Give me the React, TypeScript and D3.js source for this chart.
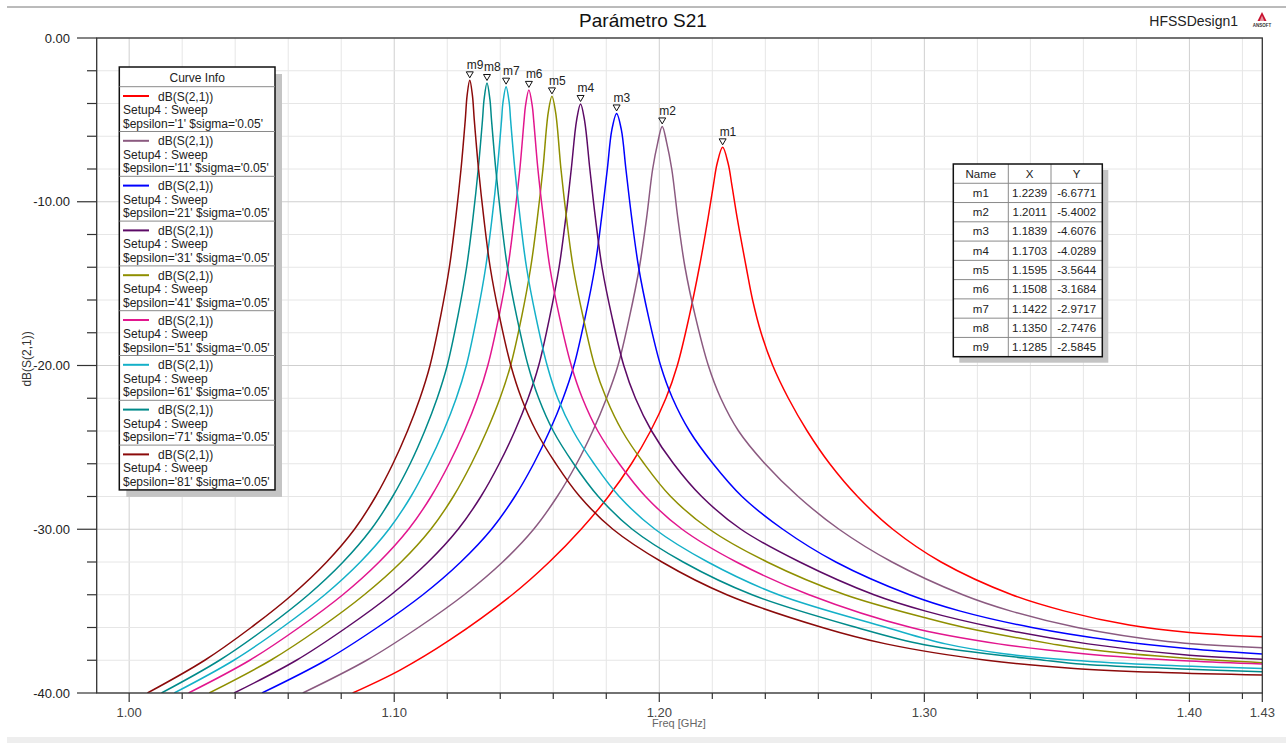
import React from 'react';
import * as d3 from 'd3';

// ---------- data ----------
const chartTitle = 'Parámetro S21';
const designName = 'HFSSDesign1';
const yAxisTitle = 'dB(S(2,1))';
const xAxisTitle = 'Freq [GHz]';

const xMajorTicks = [1.0, 1.1, 1.2, 1.3, 1.4];
const xEndLabel = '1.43';
const yMajorTicks = [0, -10, -20, -30, -40];

const epsilons = [1, 11, 21, 31, 41, 51, 61, 71, 81];
const curveColors = ['#ff0000', '#8b5a80', '#0000ff', '#5c0a66', '#8f8f00', '#e2168e', '#14b0c8', '#008a8a', '#8b0a0a'];

// [freq GHz, dB]
const s21_eps1: [number, number][] = [[1.0843,-40],[1.1022,-38.6],[1.121,-36.76],[1.1445,-34],[1.1585,-32],[1.1705,-30],[1.1808,-28],[1.1895,-26],[1.1967,-24],[1.2025,-22],[1.2068,-20],[1.2113,-17],[1.2151,-14],[1.2184,-11],[1.2204,-9],[1.2218,-7.68],[1.2239,-6.6771],[1.226,-7.68],[1.2274,-9],[1.2294,-11],[1.2328,-14],[1.2352,-16],[1.2384,-18],[1.2428,-20],[1.2487,-22],[1.2558,-24],[1.2643,-26],[1.2748,-28],[1.2881,-30],[1.3063,-32],[1.333,-34],[1.353,-35],[1.3773,-35.85],[1.40,-36.3],[1.4275,-36.56]];
const s21_eps11: [number, number][] = [[1.0655,-40],[1.0896,-38],[1.1091,-36],[1.1264,-34],[1.1409,-32],[1.1526,-30],[1.1615,-28],[1.1688,-26],[1.1749,-24],[1.1801,-22],[1.1844,-20],[1.1888,-17],[1.1925,-14],[1.1952,-11],[1.1975,-8],[1.1994,-6.4],[1.2011,-5.4002],[1.2028,-6.4],[1.2047,-8],[1.207,-11],[1.2097,-14],[1.2136,-17],[1.2185,-20],[1.2232,-22],[1.2299,-24],[1.2399,-26],[1.2524,-28],[1.2678,-30],[1.2878,-32],[1.3145,-34],[1.3327,-35],[1.3577,-36],[1.3917,-36.85],[1.4275,-37.23]];
const s21_eps21: [number, number][] = [[1.0501,-40],[1.0742,-38],[1.0936,-36],[1.1108,-34],[1.1251,-32],[1.1367,-30],[1.1455,-28],[1.1526,-26],[1.1586,-24],[1.1637,-22],[1.1678,-20],[1.1721,-17],[1.1757,-14],[1.1782,-11],[1.1804,-8],[1.1821,-5.61],[1.1839,-4.6076],[1.1857,-5.61],[1.1874,-8],[1.1896,-11],[1.1922,-14],[1.1959,-17],[1.2005,-20],[1.205,-22],[1.2114,-24],[1.2203,-26],[1.2312,-28],[1.2466,-30],[1.2666,-32],[1.2944,-34],[1.3136,-35],[1.3406,-36],[1.3714,-36.8],[1.40,-37.3],[1.4275,-37.62]];
const s21_eps31: [number, number][] = [[1.0396,-40],[1.0631,-38],[1.082,-36],[1.0988,-34],[1.1128,-32],[1.1241,-30],[1.1327,-28],[1.1396,-26],[1.1455,-24],[1.1505,-22],[1.1545,-20],[1.1587,-17],[1.1622,-14],[1.1647,-11],[1.1668,-8],[1.1688,-5.03],[1.1703,-4.0289],[1.1718,-5.03],[1.1738,-8],[1.1759,-11],[1.1784,-14],[1.1821,-17],[1.1866,-20],[1.191,-22],[1.1971,-24],[1.2054,-26],[1.216,-28],[1.2308,-30],[1.253,-32],[1.281,-34],[1.3005,-35],[1.3265,-36],[1.3618,-37],[1.40,-37.7],[1.4275,-37.94]];
const s21_eps41: [number, number][] = [[1.0302,-40],[1.0534,-38],[1.0722,-36],[1.0887,-34],[1.1026,-32],[1.1138,-30],[1.1223,-28],[1.1291,-26],[1.1349,-24],[1.1399,-22],[1.1439,-20],[1.1481,-17],[1.1515,-14],[1.154,-11],[1.1561,-8],[1.1581,-4.56],[1.1595,-3.5644],[1.1609,-4.56],[1.1629,-8],[1.165,-11],[1.1675,-14],[1.1712,-17],[1.1756,-20],[1.18,-22],[1.186,-24],[1.1943,-26],[1.2043,-28],[1.2189,-30],[1.2407,-32],[1.2701,-34],[1.3025,-35.5],[1.3151,-36],[1.348,-37],[1.36,-37.3],[1.40,-37.9],[1.4275,-38.15]];
const s21_eps51: [number, number][] = [[1.0224,-40],[1.0455,-38],[1.0641,-36],[1.0806,-34],[1.0943,-32],[1.1054,-30],[1.1139,-28],[1.1207,-26],[1.1265,-24],[1.1314,-22],[1.1353,-20],[1.1395,-17],[1.1429,-14],[1.1453,-11],[1.1474,-8],[1.149,-5],[1.1495,-4.17],[1.1508,-3.1684],[1.1521,-4.17],[1.1526,-5],[1.1542,-8],[1.1563,-11],[1.1587,-14],[1.1623,-17],[1.1668,-20],[1.171,-22],[1.1768,-24],[1.1849,-26],[1.1948,-28],[1.2086,-30],[1.2291,-32],[1.2565,-34],[1.295,-36],[1.328,-37],[1.36,-37.6],[1.40,-38.05],[1.4275,-38.23]];
const s21_eps61: [number, number][] = [[1.017,-40],[1.0395,-38],[1.0577,-36],[1.0738,-34],[1.0872,-32],[1.098,-30],[1.1063,-28],[1.1129,-26],[1.1186,-24],[1.1234,-22],[1.1272,-20],[1.1312,-17],[1.1345,-14],[1.1369,-11],[1.1389,-8],[1.1405,-5],[1.141,-3.97],[1.1422,-2.9717],[1.1434,-3.97],[1.1439,-5],[1.1455,-8],[1.1475,-11],[1.1499,-14],[1.1534,-17],[1.1577,-20],[1.1617,-22],[1.1675,-24],[1.1754,-26],[1.1849,-28],[1.1984,-30],[1.2183,-32],[1.245,-34],[1.2858,-36],[1.308,-37],[1.33,-37.6],[1.356,-38],[1.39,-38.3],[1.4275,-38.5]];
const s21_eps71: [number, number][] = [[1.0122,-40],[1.0341,-38],[1.0519,-36],[1.0676,-34],[1.0807,-32],[1.0913,-30],[1.0994,-28],[1.106,-26],[1.1115,-24],[1.1162,-22],[1.12,-20],[1.124,-17],[1.1273,-14],[1.1297,-11],[1.1317,-8],[1.1333,-5],[1.1339,-3.75],[1.135,-2.7476],[1.1361,-3.75],[1.1367,-5],[1.1383,-8],[1.1403,-11],[1.1427,-14],[1.1462,-17],[1.1505,-20],[1.1545,-22],[1.16,-24],[1.1677,-26],[1.177,-28],[1.1898,-30],[1.209,-32],[1.235,-34],[1.2745,-36],[1.30,-37.05],[1.345,-38],[1.36,-38.25],[1.40,-38.55],[1.4275,-38.7]];
const s21_eps81: [number, number][] = [[1.0069,-40],[1.0285,-38],[1.046,-36],[1.0615,-34],[1.0745,-32],[1.085,-30],[1.093,-28],[1.0995,-26],[1.105,-24],[1.1097,-22],[1.1135,-20],[1.1175,-17],[1.1208,-14],[1.1232,-11],[1.1252,-8],[1.1268,-5],[1.1275,-3.5],[1.1285,-2.5845],[1.1295,-3.5],[1.1302,-5],[1.1318,-8],[1.1338,-11],[1.1362,-14],[1.1397,-17],[1.144,-20],[1.148,-22],[1.1535,-24],[1.161,-26],[1.17,-28],[1.1825,-30],[1.201,-32],[1.2255,-34],[1.2615,-36],[1.2855,-37],[1.3235,-38],[1.3565,-38.5],[1.39,-38.75],[1.4275,-38.9]];

const seriesData = [s21_eps1, s21_eps11, s21_eps21, s21_eps31, s21_eps41, s21_eps51, s21_eps61, s21_eps71, s21_eps81];

const markerNames = ['m1', 'm2', 'm3', 'm4', 'm5', 'm6', 'm7', 'm8', 'm9'];
const markerX = [1.2239, 1.2011, 1.1839, 1.1703, 1.1595, 1.1508, 1.1422, 1.1350, 1.1285];
const markerY = [-6.6771, -5.4002, -4.6076, -4.0289, -3.5644, -3.1684, -2.9717, -2.7476, -2.5845];

// ---------- layout ----------
const W = 1286;
const H = 743;
const P = { left: 96.7, right: 1262.3, top: 38, bottom: 693 };
const FONT = "'Liberation Sans', Arial, sans-serif";

export default function App() {
  const x = d3.scaleLinear().domain([0.98775, 1.4275]).range([P.left, P.right]);
  const y = d3.scaleLinear().domain([-40, 0]).range([P.bottom, P.top]);
  const line = d3
    .line<[number, number]>()
    .x((d) => x(d[0]))
    .y((d) => y(d[1]))
    .curve(d3.curveCatmullRom.alpha(0.5));

  const xMinor = d3.range(0, 22).map((k) => +(1.0 + k * 0.02).toFixed(2));
  const yMinor = d3.range(0, 21).map((k) => -2 * k);
  const isMajorX = (v: number) => Math.abs(v * 10 - Math.round(v * 10)) < 1e-6;
  const isMajorY = (v: number) => v % 10 === 0;

  const lg = { x: 119.3, y: 67, w: 155.7, head: 19.7, row: 44.8 };
  const lgH = lg.head + lg.row * epsilons.length;
  const tb = { x: 953.3, y: 164, w: 149, row: 19.27, c1: 1008.3, c2: 1051 };
  const tbRows = markerNames.length + 1;
  const colCenters = [(tb.x + tb.c1) / 2, (tb.c1 + tb.c2) / 2, (tb.c2 + tb.x + tb.w) / 2];

  return (
    <svg
      width={W}
      height={H}
      style={{ position: 'absolute', left: 0, top: 0, display: 'block', background: '#fff' }}
      fontFamily={FONT}
    >
      <defs>
        <clipPath id="plotClip">
          <rect x={P.left} y={P.top} width={P.right - P.left} height={P.bottom - P.top} />
        </clipPath>
      </defs>
      <rect x={0} y={0} width={W} height={H} fill="#fff" />
      <line x1={7} x2={W} y1={7} y2={7} stroke="#767676" strokeWidth={1} />
      <rect x={7} y={737} width={W - 7} height={6} fill="#eeeeee" />

      <text x={643} y={27} textAnchor="middle" fontSize={19} fill="#111">{chartTitle}</text>
      <text x={1238} y={26} textAnchor="end" fontSize={14} fill="#222">{designName}</text>
      <g>
        <path d="M1262,12 L1266.5,21 L1257.5,21 Z" fill="#c8102e" />
        <path d="M1262,15.5 L1264.3,21 L1259.7,21 Z" fill="#fff" opacity={0.55} />
        <text x={1262} y={26.5} textAnchor="middle" fontSize={4.5} fill="#333" fontWeight="bold">ANSOFT</text>
      </g>

      {/* grid */}
      {xMinor.map((v) => (
        <line key={'gx' + v} x1={x(v)} x2={x(v)} y1={P.top} y2={P.bottom}
          stroke={isMajorX(v) ? '#cfcfcf' : '#e6e6e6'} strokeWidth={1} />
      ))}
      {yMinor.map((v) => (
        <line key={'gy' + v} x1={P.left} x2={P.right} y1={y(v)} y2={y(v)}
          stroke={isMajorY(v) ? '#cfcfcf' : '#e6e6e6'} strokeWidth={1} />
      ))}

      {/* curves */}
      <g clipPath="url(#plotClip)">
        {seriesData.map((s, i) => (
          <path key={'c' + i} d={line(s) || ''} fill="none" stroke={curveColors[i]} strokeWidth={1.5} strokeLinejoin="round" />
        ))}
      </g>

      {/* frame */}
      <rect x={P.left} y={P.top} width={P.right - P.left} height={P.bottom - P.top}
        fill="none" stroke="#333" strokeWidth={1.3} />

      {/* y ticks */}
      {yMinor.map((v) => (
        <line key={'ty' + v} x1={isMajorY(v) ? 77 : 87} x2={P.left} y1={y(v)} y2={y(v)} stroke="#333" strokeWidth={1.2} />
      ))}
      {yMajorTicks.map((v) => (
        <text key={'ly' + v} x={70} y={y(v)} textAnchor="end" dominantBaseline="central" fontSize={13} fill="#222">
          {v.toFixed(2)}
        </text>
      ))}
      <text transform={`translate(27,${y(-19.6)}) rotate(-90)`} textAnchor="middle" dominantBaseline="central" fontSize={12} fill="#333">
        {yAxisTitle}
      </text>

      {/* x ticks */}
      {xMinor.map((v) => (
        <line key={'tx' + v} x1={x(v)} x2={x(v)} y1={P.bottom} y2={P.bottom + (isMajorX(v) ? 9 : 6)} stroke="#333" strokeWidth={1.2} />
      ))}
      <line x1={P.right} x2={P.right} y1={P.bottom} y2={P.bottom + 9} stroke="#333" strokeWidth={1.2} />
      {xMajorTicks.map((v) => (
        <text key={'lx' + v} x={x(v)} y={712} textAnchor="middle" dominantBaseline="central" fontSize={13} fill="#444">
          {v.toFixed(2)}
        </text>
      ))}
      <text x={P.right} y={712} textAnchor="middle" dominantBaseline="central" fontSize={13} fill="#444">{xEndLabel}</text>
      <text x={679} y={723} textAnchor="middle" dominantBaseline="central" fontSize={11} fill="#666">{xAxisTitle}</text>

      {/* markers */}
      {markerNames.map((m, i) => {
        const mx = x(markerX[i]);
        const my = y(markerY[i]);
        return (
          <g key={'mk' + m}>
            <path d={`M${mx - 3.5},${my - 8.5} L${mx + 3.5},${my - 8.5} L${mx},${my - 2.5} Z`} fill="#fff" stroke="#111" strokeWidth={1} />
            <text x={mx - 3} y={my - 11.5} fontSize={12} fill="#222">{m}</text>
          </g>
        );
      })}

      {/* legend */}
      <rect x={lg.x + 7} y={lg.y + 7} width={lg.w} height={lgH} fill="#c4c4c4" />
      <rect x={lg.x} y={lg.y} width={lg.w} height={lgH} fill="#fff" stroke="#111" strokeWidth={1.5} />
      <text x={lg.x + lg.w / 2} y={lg.y + lg.head / 2 + 1} textAnchor="middle" dominantBaseline="central" fontSize={12} fill="#222">Curve Info</text>
      {epsilons.map((e, i) => {
        const t = lg.y + lg.head + i * lg.row;
        return (
          <g key={'lg' + e}>
            <line x1={lg.x} x2={lg.x + lg.w} y1={t} y2={t} stroke="#8a8a8a" strokeWidth={1} />
            <line x1={123} x2={149} y1={t + 9.3} y2={t + 9.3} stroke={curveColors[i]} strokeWidth={2} />
            <text x={158} y={t + 9.8} dominantBaseline="central" fontSize={12} fill="#222">dB(S(2,1))</text>
            <text x={123} y={t + 23.3} dominantBaseline="central" fontSize={12} fill="#222">Setup4 : Sweep</text>
            <text x={123} y={t + 36.8} dominantBaseline="central" fontSize={12} fill="#222">{`$epsilon='${e}' $sigma='0.05'`}</text>
          </g>
        );
      })}

      {/* marker table */}
      <rect x={tb.x + 6} y={tb.y + 6} width={tb.w} height={tb.row * tbRows} fill="#c4c4c4" />
      <rect x={tb.x} y={tb.y} width={tb.w} height={tb.row * tbRows} fill="#fff" />
      {d3.range(1, tbRows).map((r) => (
        <line key={'tr' + r} x1={tb.x} x2={tb.x + tb.w} y1={tb.y + r * tb.row} y2={tb.y + r * tb.row} stroke="#8a8a8a" strokeWidth={1} />
      ))}
      <line x1={tb.c1} x2={tb.c1} y1={tb.y} y2={tb.y + tb.row * tbRows} stroke="#8a8a8a" strokeWidth={1} />
      <line x1={tb.c2} x2={tb.c2} y1={tb.y} y2={tb.y + tb.row * tbRows} stroke="#8a8a8a" strokeWidth={1} />
      <rect x={tb.x} y={tb.y} width={tb.w} height={tb.row * tbRows} fill="none" stroke="#111" strokeWidth={1.5} />
      {['Name', 'X', 'Y'].map((h, j) => (
        <text key={'th' + h} x={colCenters[j]} y={tb.y + tb.row / 2}
          textAnchor="middle" dominantBaseline="central" fontSize={11.5} fill="#222">{h}</text>
      ))}
      {markerNames.map((m, i) => {
        const cy = tb.y + (i + 1.5) * tb.row;
        return (
          <g key={'tbr' + m}>
            <text x={colCenters[0]} y={cy} textAnchor="middle" dominantBaseline="central" fontSize={11.5} fill="#222">{m}</text>
            <text x={colCenters[1]} y={cy} textAnchor="middle" dominantBaseline="central" fontSize={11.5} fill="#222">{markerX[i].toFixed(4)}</text>
            <text x={colCenters[2]} y={cy} textAnchor="middle" dominantBaseline="central" fontSize={11.5} fill="#222">{markerY[i].toFixed(4)}</text>
          </g>
        );
      })}
    </svg>
  );
}
